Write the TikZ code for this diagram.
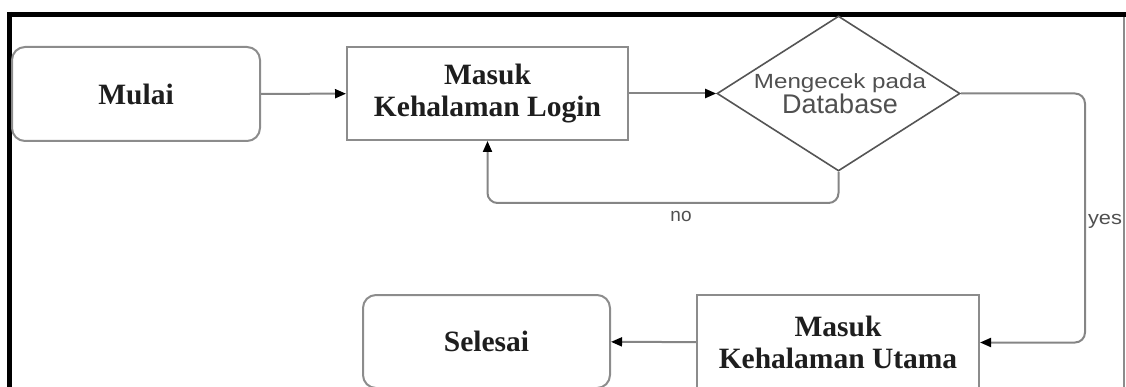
\documentclass[tikz,border=0pt]{standalone}
\usepackage{fontspec}
\setmainfont{Liberation Serif}
\setsansfont{Liberation Sans}
\usetikzlibrary{shapes.geometric,arrows.meta}
\definecolor{linegray}{HTML}{858585}
\definecolor{boxgray}{HTML}{8C8C8C}
\definecolor{darkline}{HTML}{555555}
\definecolor{labelgray}{HTML}{505050}
\definecolor{inkblack}{HTML}{1E1E1E}
\tikzset{
  boxtext/.style={font=\bfseries\fontsize{29.5}{32}\selectfont, text=inkblack, align=center},
  terminal/.style={draw=boxgray, line width=2pt, rounded corners=13pt, inner sep=0pt, boxtext},
  process/.style={draw=boxgray, line width=2pt, inner sep=0pt, boxtext},
  decision/.style={diamond, draw=darkline, line width=1.6pt, inner sep=0pt},
  flow/.style={draw=linegray, line width=2pt, rounded corners=10pt,
    -{Triangle[length=11pt,width=9pt,color=black]}},
  edgelabel/.style={font=\sffamily\fontsize{19}{22}\selectfont, text=labelgray, inner sep=0pt}
}
\begin{document}
\begin{tikzpicture}[x=1pt,y=-1pt]
  \useasboundingbox (0,0) rectangle (1126,387);
  \clip (0,0) rectangle (1126,387);

  % page frame
  \draw[line width=1.5pt, boxgray] (1124,16) -- (1124,390);
  \draw[line width=5pt, black] (7,14.5) -- (1130,14.5);
  \draw[line width=5pt, black] (9.5,12) -- (9.5,390);

  % blocks
  \node[terminal, minimum width=248pt, minimum height=94pt] (mulai) at (136,94) {Mulai};
  \node[process, minimum width=281pt, minimum height=93pt] (login) at (487.5,93.5) {Masuk\\Kehalaman Login};
  \node[decision, minimum width=243pt, minimum height=155pt] (cek) at (838.5,93.5) {};
  \node[text=labelgray, align=center, inner sep=0pt] (cektext) at (840,94)
    {\fontsize{20.5}{22}\selectfont\sffamily\scalebox{1.18}[1]{Mengecek pada}\\[0pt]
     \fontsize{27}{25}\selectfont\sffamily Database};
  \node[process, minimum width=282pt, minimum height=95pt] (utama) at (838,342.5) {Masuk\\Kehalaman Utama};
  \node[terminal, minimum width=247pt, minimum height=93pt] (selesai) at (486.5,341.5) {Selesai};

  % turning points of the two branches
  \coordinate (noturn) at (0,203);
  \coordinate (yesturn) at (1085,342.5);

  % connectors
  \draw[flow] (mulai) -- (login);
  \draw[flow] (login) -- (cek.west);
  \draw[flow] (cek.south) |- (login.south |- noturn) -- (login.south);
  \draw[flow] (cek.east) -| (yesturn) -- (utama.east);
  \draw[flow] (utama) -- (selesai);

  % branch labels
  \node[edgelabel] (nolabel) at (681,216) {no};
  \node[edgelabel, xscale=1.15] (yeslabel) at (1105,221) {yes};
\end{tikzpicture}
\end{document}
